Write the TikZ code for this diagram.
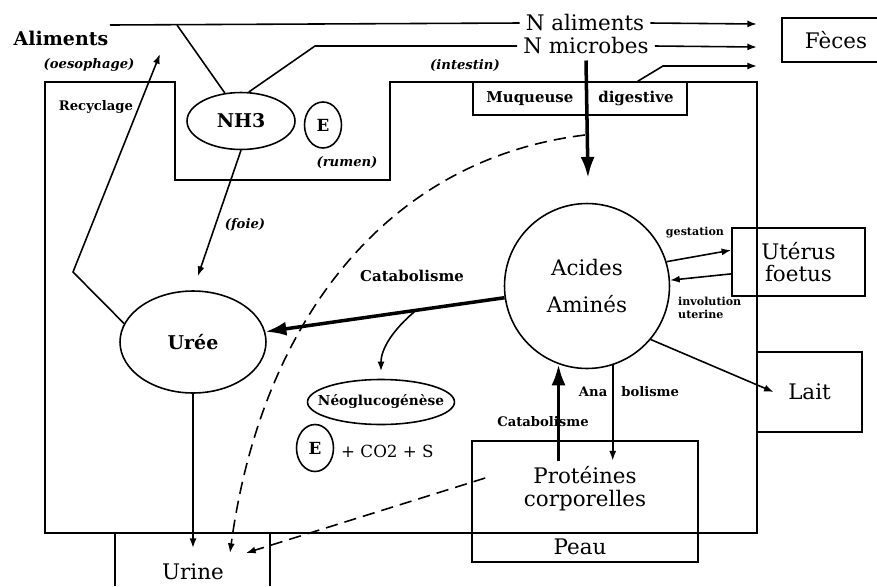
\documentclass[tikz,border=0pt]{standalone}
\usepackage{fontspec}
\setmainfont{DejaVu Serif}
\usetikzlibrary{shapes.geometric,arrows.meta}

\begin{document}
\begin{tikzpicture}
    [x=0.02cm, y=-0.02cm,
 boite/.style ={rectangle, draw=black, line width=0.9pt},
 rond/.style ={ellipse, draw=black, line width=0.9pt, inner sep=0pt},
 grand/.style ={font=\fontsize{12.2}{13}\selectfont, align=center},
 gras/.style ={font=\bfseries\fontsize{10.8}{12}\selectfont},
 moyen/.style ={font=\bfseries\fontsize{8.5}{10}\selectfont},
 petit/.style ={font=\bfseries\fontsize{7.5}{8.5}\selectfont, align=left},
 ital/.style ={font=\bfseries\itshape\fontsize{7.5}{8.5}\selectfont},
 line/.style ={draw, line width=0.9pt},
 fleche/.style ={draw, line width=0.9pt, -{Latex[length=5.5pt,width=4pt]}},
 grosfleche/.style ={draw, line width=2pt, -{Latex[length=12pt,width=8pt]}},
 tirets/.style ={fleche, dash pattern=on 7pt off 4pt}]
    \useasboundingbox (0,0) rectangle (877,586);
    % corps de l'animal, avec le rumen
    \draw[line] (175,82) -- (45,82) -- (45,533) -- (757,533) -- (757,82) -- (390,82) -- (390,180) -- (175,180) -- cycle;
    \draw[line] (115,586) |- (270,533) -- (270,586);
    \draw[line] (877,18) -| (782,62) -- (877,62);

    \node[gras] (aliments) at (61,38) {Aliments};
    \node[ital] (oesophage) at (89,65) {(oesophage)};
    \node[petit] (recyclage) at (96,107) {Recyclage};
    \node[ital] (intestin) at (465,66) {(intestin)};
    \node[ital] (rumen) at (347,163) {(rumen)};
    \node[ital] (foie) at (245,225) {(foie)};
    \node[rond, gras, minimum width=2.16cm, minimum height=1.14cm] (nh3) at (241,121) {NH3};
    \node[rond, moyen, font=\bfseries\fontsize{9.5}{11}\selectfont, minimum width=0.74cm, minimum height=0.92cm] (e1) at (323,125) {E};
    \node[grand] (naliments) at (585,23) {N aliments};
    \node[grand] (nmicrobes) at (586,46) {N microbes};
    \node[grand] (feces) at (836,40) {Fèces};
    \node[boite, moyen, minimum width=4.28cm, minimum height=0.66cm] (muqueuse) at (580,98.5) {Muqueuse\hspace{0.5cm}digestive};
    \node[rond, gras, minimum width=2.92cm, minimum height=2.04cm] (uree) at (193,342) {Urée};
    \node[circle, draw, line width=0.9pt, align=center, font=\fontsize{12.2}{21}\selectfont, minimum size=3.3cm] (acides) at (587,286) {Acides\\Aminés};
    \node[moyen] (catabolisme) at (412,276) {Catabolisme};
    \node[rond, moyen, inner xsep=-20pt, font=\bfseries\fontsize{7.8}{9}\selectfont, minimum width=2.94cm, minimum height=0.9cm] (neo) at (381,402) {Néoglucogénèse};
    \node[rond, moyen, font=\bfseries\fontsize{9.5}{11}\selectfont, minimum width=0.74cm, minimum height=0.94cm] (e2) at (315,448) {E};
    \node[font=\fontsize{9.5}{11}\selectfont, anchor=west] (co2) at (335,451) {+ CO2 + S};
    \node[petit, font=\bfseries\fontsize{6.3}{7}\selectfont] (gestation) at (695,233) {gestation};
    \node[petit, anchor=west, font=\bfseries\fontsize{6.3}{7}\selectfont] (involution) at (672,308) {involution\\uterine};
    \node[boite, grand, minimum width=2.66cm, minimum height=1.36cm] (uterus) at (798.5,262) {Utérus\\foetus};
    \node[boite, grand, minimum width=2.1cm, minimum height=1.6cm] (lait) at (809.5,392) {Lait};
    \node[boite, minimum width=4.52cm, minimum height=2.42cm] (peau) at (585,501.5) {};
    \node[grand] (proteines) at (585,489) {Protéines\\corporelles};
    \node[grand] (peautxt) at (580,547) {Peau};
    \node[grand] (urine) at (193,572) {Urine};
    \node[petit] (catabolisme2) at (543,422) {Catabolisme};
    \node[petit] (anabolisme) at (629,392) {Ana\hspace{0.28cm}bolisme};

    % azote du tube digestif
    \coordinate (depart1) at (110,25);
    \coordinate (branche1) at (177,25);
    \coordinate (coude2) at (315,46);
    \coordinate (coude3) at (663,66);
    \coordinate (sortie1) at (757,24);
    \coordinate (sortie2) at (757,47);
    \coordinate (sortie3) at (757,66);
    \coordinate (bas) at (588,178);
    \draw[line] (depart1) -- (naliments.west);
    \draw[line] (branche1) -- (nh3.120);
    \draw[line] (nh3.75) -- (coude2) -- (nmicrobes.west);
    \draw[fleche] (naliments.east) -- (sortie1);
    \draw[fleche] (nmicrobes.east) -- (sortie2);
    \draw[fleche] ([xshift=-1cm]muqueuse.north east) -- (coude3) -- (sortie3);
    \draw[grosfleche] (nmicrobes.south) -- (bas);

    % uree et recyclage
    \coordinate (coude4) at (73,272);
    \coordinate (haut) at (160,54);
    \coordinate (urine1) at (193,548);
    \coordinate (urine2) at (230,553);
    \coordinate (urine3) at (246,553);
    \coordinate (depart2) at (585,135);
    \draw[fleche] (uree.165) -- (coude4) -- (haut);
    \draw[fleche, shorten >=0.3cm] (nh3.south) -- (uree.north);
    \draw[fleche] (uree.south) -- (urine1);
    \draw[tirets] (depart2) .. controls (380,160) and (260,330) .. (urine2);
    \draw[tirets] ([shift={(-0.65cm,0.22cm)}]proteines.west) -- (urine3);

    % acides amines
    \draw[grosfleche] (acides) -- coordinate[pos=0.37] (milieu) (uree);
    \draw[fleche, shorten >=0.15cm] (milieu) to[out=-140, in=90] (neo.north);
    \draw[fleche] (acides.17) -- (uterus.170);
    \draw[fleche] (uterus.190) -- (acides.4);
    \draw[fleche] (acides.-40) -- ([xshift=0.35cm]lait.west);
    \draw[grosfleche] (acides.-110 |- proteines.north) -- (acides.-110);
    \draw[fleche] (acides.-72) -- (acides.-72 |- proteines.north);
\end{tikzpicture}
\end{document}
